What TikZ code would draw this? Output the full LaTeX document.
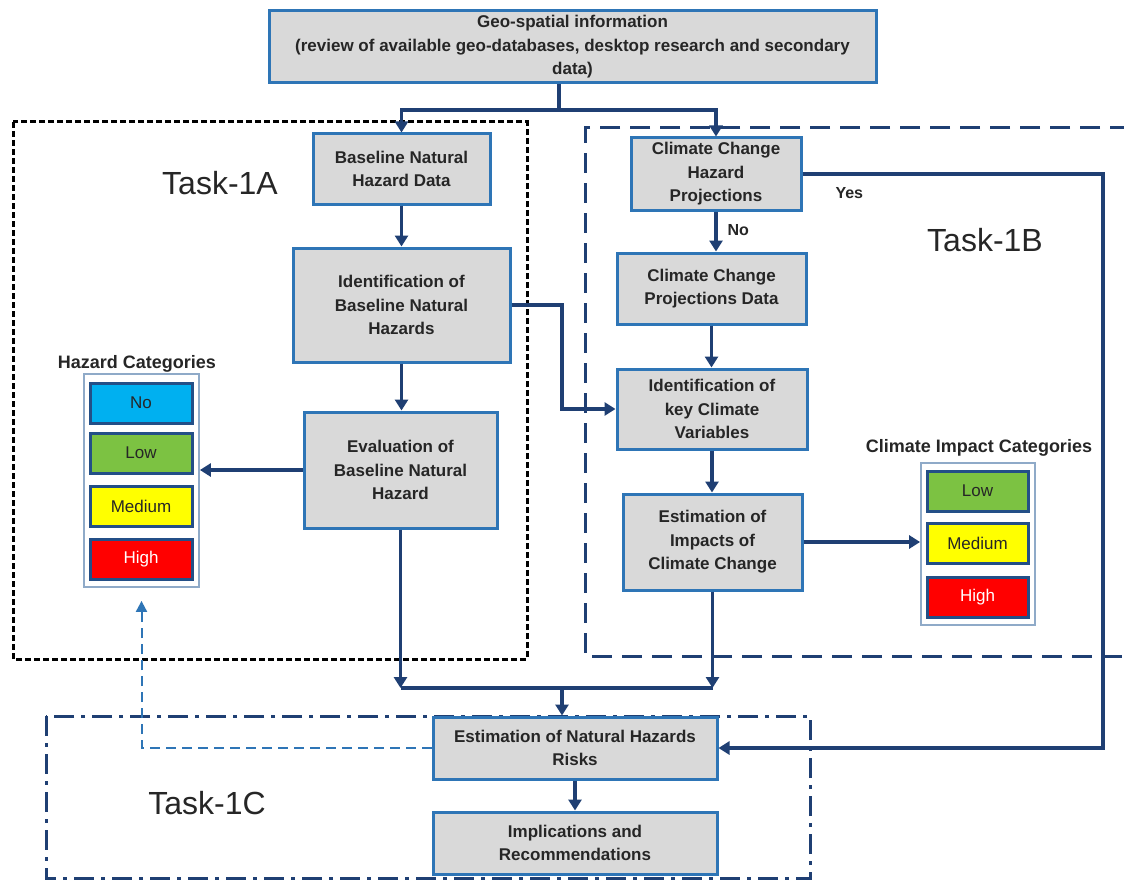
\documentclass[tikz,border=0pt]{standalone}
\usepackage{fontspec}
\setmainfont{Liberation Sans}
\usetikzlibrary{arrows.meta,calc}
\definecolor{boxblue}{HTML}{2E75B6}
\definecolor{navy}{HTML}{1F3F73}
\definecolor{boxgray}{HTML}{D9D9D9}
\definecolor{txt}{HTML}{262626}
\definecolor{legline}{HTML}{8FAAC8}
\definecolor{fbblue}{HTML}{2E75B6}
\definecolor{cNo}{HTML}{00B0F0}
\definecolor{cLow}{HTML}{7CC242}
\definecolor{cMed}{HTML}{FFFF00}
\definecolor{cHigh}{HTML}{FF0000}
\tikzset{
  proc/.style={draw=boxblue, line width=3pt, fill=boxgray, align=center, text=txt,
    font=\bfseries\fontsize{17}{23.5}\selectfont, inner sep=0pt},
  arr/.style={draw=navy, line width=3.3pt, -{Triangle[length=11pt,width=13pt]}},
  conn/.style={draw=navy, line width=3.3pt},
  fbarr/.style={draw=fbblue, line width=2pt, dash pattern=on 10pt off 6pt, -{Triangle[length=11pt,width=11pt]}},
  legout/.style={draw=legline, line width=1.8pt, fill=white},
  legbox/.style={draw=navy!70!boxblue, line width=3pt, minimum width=102pt, minimum height=40pt,
    font=\fontsize{17}{20}\selectfont, text=txt, inner sep=0pt},
  legtitle/.style={font=\bfseries\fontsize{18}{21}\selectfont, text=txt},
  tasklbl/.style={font=\fontsize{32}{36}\selectfont, text=txt},
  yn/.style={font=\bfseries\fontsize{16}{19}\selectfont, text=txt},
  taskA/.style={draw=black, line width=3pt, dash pattern=on 6pt off 3pt},
  taskB/.style={draw=navy, line width=3pt, dash pattern=on 20pt off 10pt},
  taskC/.style={draw=navy, line width=3pt, dash pattern=on 20pt off 7pt on 4pt off 7pt},
}
\begin{document}
\begin{tikzpicture}[x=1pt,y=-1pt]
\useasboundingbox (0,0) rectangle (1124,880);
\fill[white] (0,0) rectangle (1124,880);

% task frames
\draw[taskA] (13,122) rectangle (527,659);
\draw[taskB] (1130,128) -- (585,128) -- (585,656) -- (1130,656);
\draw[taskC] (46,716) rectangle (810,878);

\node[tasklbl] (tA) at (220,183) {Task-1A};
\node[tasklbl] (tB) at (985,240) {Task-1B};
\node[tasklbl] (tC) at (207,803) {Task-1C};

% process boxes
\node[proc, minimum width=607pt, minimum height=72pt] (geo) at (572.5,47)
  {Geo-spatial information\\(review of available geo-databases, desktop research and secondary\\data)};
\node[proc, minimum width=177pt, minimum height=70pt] (bnd) at (401.5,169) {Baseline Natural\\Hazard Data};
\node[proc, minimum width=217pt, minimum height=114pt] (ibn) at (401.5,305) {Identification of\\Baseline Natural\\Hazards};
\node[proc, minimum width=193pt, minimum height=116pt] (ebn) at (400.5,470) {Evaluation of\\Baseline Natural\\Hazard};
\node[proc, minimum width=170pt, minimum height=72pt] (cchp) at (716,174) {Climate Change\\Hazard\\Projections};
\node[proc, minimum width=189pt, minimum height=71pt] (ccpd) at (711.5,288.5) {Climate Change\\Projections Data};
\node[proc, minimum width=190pt, minimum height=80pt] (ikcv) at (712,409) {Identification of\\key Climate\\Variables};
\node[proc, minimum width=179pt, minimum height=96pt] (eicc) at (712.5,542) {Estimation of\\Impacts of\\Climate Change};
\node[proc, minimum width=284pt, minimum height=62pt] (enhr) at (575,748) {Estimation of Natural Hazards\\Risks};
\node[proc, minimum width=284pt, minimum height=62pt] (impl) at (575,843) {Implications and\\Recommendations};

% hazard categories legend
\node[legtitle] (htitle) at (137,364) {Hazard Categories};
\node[legout, minimum width=115pt, minimum height=213pt] (hleg) at (141.5,480.5) {};
\node[legbox, fill=cNo] (hNo) at (141,403) {No};
\node[legbox, fill=cLow] (hLow) at (141,453) {Low};
\node[legbox, fill=cMed] (hMed) at (141,506.5) {Medium};
\node[legbox, fill=cHigh, text=white] (hHigh) at (141,559.5) {High};

% climate impact legend
\node[legtitle] (ctitle) at (979,448) {Climate Impact Categories};
\node[legout, minimum width=114pt, minimum height=162pt] (cleg) at (978,544) {};
\node[legbox, fill=cLow, minimum width=101pt] (cLowB) at (977.5,491) {Low};
\node[legbox, fill=cMed, minimum width=101pt] (cMedB) at (977.5,543.5) {Medium};
\node[legbox, fill=cHigh, minimum width=101pt, text=white] (cHighB) at (977.5,597) {High};

% connectors
\coordinate (split) at (559,110);
\draw[conn] (geo.south -| split) -- (split);
\draw[arr] (split) -| (bnd.north);
\draw[arr] (split) -| (cchp.north);

\draw[arr] (bnd.south) -- (bnd.south |- ibn.north);
\draw[arr] (ibn.south) -- (ibn.south |- ebn.north);
\draw[arr] (ebn.west) -- (ebn.west -| hleg.east);

\coordinate (mx) at (562,0);
\draw[arr] (ibn.east) -| (mx |- ikcv.west) -- (ikcv.west);

\draw[arr] (cchp.south) -- (cchp.south |- ccpd.north);
\draw[arr] (ccpd.south) -- (ccpd.south |- ikcv.north);
\draw[arr] (ikcv.south) -- (ikcv.south |- eicc.north);
\draw[arr] (eicc.east) -- (eicc.east -| cleg.west);

\coordinate (yx) at (1103,0);
\draw[arr] (cchp.east) -- (cchp.east -| yx) |- (enhr.east);
\node[yn, anchor=west] (yes) at (832,193) {Yes};
\node[yn, anchor=west] (no) at (724,230) {No};

\coordinate (mj) at (562,688);
\draw[arr] (ebn.south) -- (ebn.south |- mj);
\draw[arr] (eicc.south) -- (eicc.south |- mj);
\draw[conn] (ebn.south |- mj) -- (eicc.south |- mj);
\draw[arr] (mj) -- (mj |- enhr.north);
\draw[arr] (enhr.south) -- (enhr.south |- impl.north);

\draw[fbarr] (enhr.west) -| ([yshift=-13pt]hleg.south);
\end{tikzpicture}
\end{document}
